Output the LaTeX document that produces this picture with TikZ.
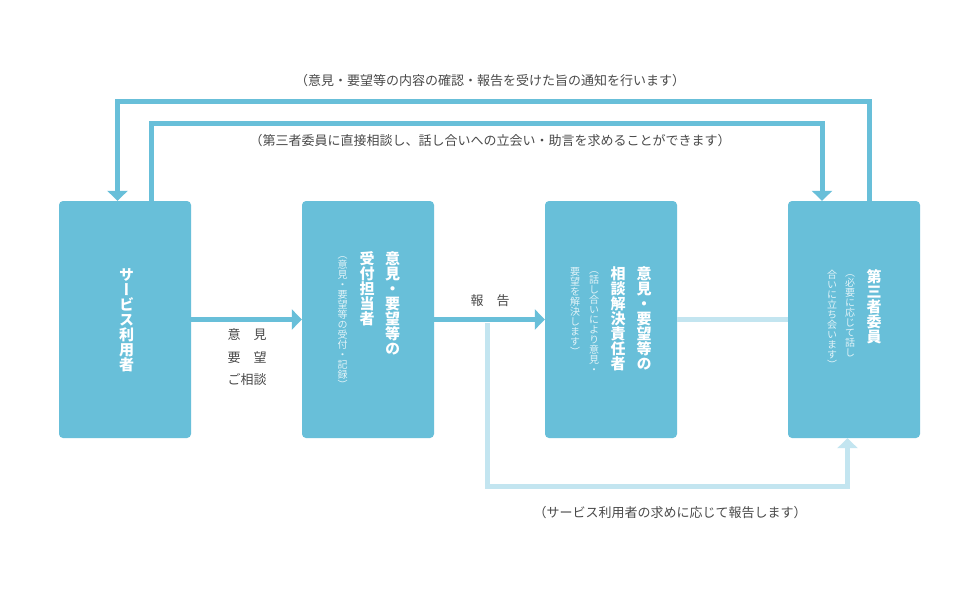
\documentclass[tikz,border=0pt]{standalone}
\usepackage{fontspec}
\usetikzlibrary{arrows.meta}
\newfontfamily\jp{Noto Sans CJK JP}
\newfontfamily\jpv[RawFeature=+vert]{Noto Sans CJK JP}
\definecolor{boxc}{HTML}{68BFD9}
\definecolor{lightc}{HTML}{C3E5F0}
\definecolor{txtc}{HTML}{4A4A4A}
\definecolor{subc}{HTML}{E2F3F8}
\makeatletter
\def\vst#1{\vst@#1\relax}
\def\vst@#1{\ifx\relax#1\else\hbox to 1em{\hss\vrule height .88em depth .12em width 0pt #1\hss}\expandafter\vst@\fi}
\newcommand\vcol[1]{\vbox{\offinterlineskip\vst{#1}}}
\makeatother
\tikzset{
  box/.style={fill=boxc, draw=none, rounded corners=4pt, minimum width=132pt, minimum height=237pt, inner sep=0pt},
  maintxt/.style={anchor=north, inner sep=0pt, text=white, font=\jpv\bfseries\fontsize{15}{15}\selectfont},
  subtxt/.style={anchor=north, inner sep=0pt, text=subc, font=\jpv\fontsize{10}{10}\selectfont},
  lbl/.style={inner sep=0pt, text=txtc, font=\jp\fontsize{13}{15}\selectfont},
  dark/.style={draw=boxc, line width=5pt},
  light/.style={draw=lightc, line width=5pt},
  tip/.style={-{Triangle[width=20pt,length=10pt]}}
}
\begin{document}
\begin{tikzpicture}[x=1pt,y=-1pt]
\useasboundingbox (0,0) rectangle (980,600);
\fill[white] (0,0) rectangle (980,600);
% boxes
\node[box] (b1) at (125,319.5) {};
\node[box] (b2) at (368,319.5) {};
\node[box] (b3) at (611,319.5) {};
\node[box] (b4) at (854,319.5) {};
% texts in boxes
\node[maintxt] (t1) at (126.5,267) {\vcol{サービス利用者}};
\node[maintxt] (t2a) at (392.5,251) {\vcol{意見・要望等の}};
\node[maintxt] (t2b) at (367,251) {\vcol{受付担当者}};
\node[subtxt] (t2c) at (342.5,249) {\vcol{（意見・要望等の受付・記録）}};
\node[maintxt] (t3a) at (644,266) {\vcol{意見・要望等の}};
\node[maintxt] (t3b) at (618,266) {\vcol{相談解決責任者}};
\node[subtxt] (t3c) at (594,264) {\vcol{（話し合いにより意見・}};
\node[subtxt] (t3d) at (575,266) {\vcol{要望を解決します）}};
\node[maintxt] (t4a) at (874,269) {\vcol{第三者委員}};
\node[subtxt] (t4b) at (850,267) {\vcol{（必要に応じて話し}};
\node[subtxt] (t4c) at (832,269) {\vcol{合いに立ち会います）}};
% light connectors
\coordinate (j) at (487.5,323);
\coordinate (k) at (847.5,486.5);
\draw[light] (b3.east) -- (b4.west);
\draw[light, tip] (j) |- (k) -- (k |- b4.south);
% dark connectors
\draw[dark, tip] (b1.east) -- (b2.west);
\draw[dark, tip] (b2.east) -- (b3.west);
\coordinate (o1) at (869.5,101.5);
\coordinate (o2) at (117.5,101.5);
\coordinate (i1) at (151,123.5);
\coordinate (i2) at (822,123.5);
\draw[dark, tip] (o1 |- b4.north) -- (o1) -- (o2) -- (o2 |- b1.north);
\draw[dark, tip] (i1 |- b1.north) -- (i1) -- (i2) -- (i2 |- b4.north);
% labels
\node[lbl] (l1) at (490,81) {（意見・要望等の内容の確認・報告を受けた旨の通知を行います）};
\node[lbl] (l2) at (490,140.5) {（第三者委員に直接相談し、話し合いへの立会い・助言を求めることができます）};
\node[lbl] (l3) at (670,513) {（サービス利用者の求めに応じて報告します）};
\node[lbl] (l4) at (247,335) {意　見};
\node[lbl] (l5) at (247,357.5) {要　望};
\node[lbl] (l6) at (247,380) {ご相談};
\node[lbl] (l7) at (490,300.5) {報　告};
\end{tikzpicture}
\end{document}
